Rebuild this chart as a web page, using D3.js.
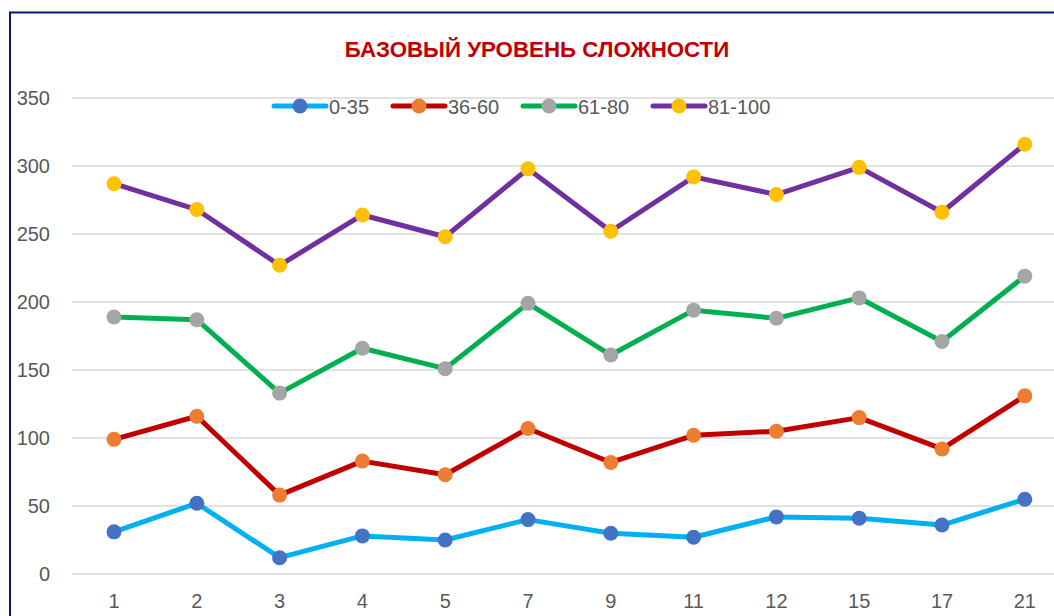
<!DOCTYPE html>
<html>
<head>
<meta charset="utf-8">
<script src="https://cdn.jsdelivr.net/npm/d3@7"></script>
<style>
   body { margin: 0; background: #fff; }
   svg { display: block; font-family: "Liberation Sans", Arial, sans-serif; }
</style>
</head>
<body>
<div id="chart"></div>
<script>
var categories = ["1", "2", "3", "4", "5", "7", "9", "11", "12", "15", "17", "21"]
var s0_35 = [31, 52, 12, 28, 25, 40, 30, 27, 42, 41, 36, 55]
var s36_60 = [99, 116, 58, 83, 73, 107, 82, 102, 105, 115, 92, 131]
var s61_80 = [189, 187, 133, 166, 151, 199, 161, 194, 188, 203, 171, 219]
var s81_100 = [287, 268, 227, 264, 248, 298, 252, 292, 279, 299, 266, 316]
var seriesNames = ["0-35", "36-60", "61-80", "81-100"]
var yTicks = [0, 50, 100, 150, 200, 250, 300, 350]

var width = 1054
var height = 616

// line colour / marker colour per series
var lineColors = ["#00B0F0", "#C00000", "#00B050", "#7030A0"]
var markColors = ["#4472C4", "#ED7D31", "#A5A5A5", "#FFC000"]

var series = [s0_35, s36_60, s61_80, s81_100].map(function(v, i) {
   return { name: seriesNames[i], values: v, line: lineColors[i], mark: markColors[i] }
})

var svg = d3.select("#chart").append("svg")
   .attr("width", width)
   .attr("height", height)

// chart frame (runs off the right and bottom edge)
svg.append("rect")
   .attr("x", 10).attr("y", 12.5)
   .attr("width", 1200).attr("height", 800)
   .attr("fill", "#fff")
   .attr("stroke", "#002060")
   .attr("stroke-width", 2)

var x = d3.scaleBand().domain(categories).range([72.6, 72.6 + 82.8 * 12])
var y = d3.scaleLinear().domain([0, 350]).range([574, 98])

// gridlines
svg.append("g").selectAll("line").data(yTicks).enter().append("line")
   .attr("x1", 72).attr("x2", width)
   .attr("y1", function(d) { return y(d) }).attr("y2", function(d) { return y(d) })
   .attr("stroke", "#D9D9D9").attr("stroke-width", 1.3)

// y axis labels
var yAxis = svg.append("g")
   .attr("transform", "translate(58,0)")
   .call(d3.axisLeft(y).tickValues(yTicks).tickSize(0).tickPadding(8))
yAxis.select(".domain").remove()
yAxis.selectAll("text")
   .attr("fill", "#595959")
   .style("font-size", "20px")
   .style("font-family", "Liberation Sans, Arial, sans-serif")

// x axis labels
var xAxis = svg.append("g")
   .attr("transform", "translate(0,590)")
   .call(d3.axisBottom(x).tickSize(0).tickPadding(4))
xAxis.select(".domain").remove()
xAxis.selectAll("text")
   .attr("fill", "#595959")
   .style("font-size", "20px")
   .style("font-family", "Liberation Sans, Arial, sans-serif")

// lines and markers
var line = d3.line()
   .x(function(d, i) { return x(categories[i]) + x.bandwidth() / 2 })
   .y(function(d) { return y(d) })

var groups = svg.selectAll("g.series").data(series).enter().append("g")
   .attr("class", "series")

groups.append("path")
   .attr("d", function(d) { return line(d.values) })
   .attr("fill", "none")
   .attr("stroke", function(d) { return d.line })
   .attr("stroke-width", 5)
   .attr("stroke-linejoin", "round")
   .attr("stroke-linecap", "round")

groups.selectAll("circle").data(function(d) {
      return d.values.map(function(v, i) { return { v: v, i: i, c: d.mark } })
   }).enter().append("circle")
   .attr("cx", function(d) { return x(categories[d.i]) + x.bandwidth() / 2 })
   .attr("cy", function(d) { return y(d.v) })
   .attr("r", 7.5)
   .attr("fill", function(d) { return d.c })

// title
svg.append("text")
   .attr("x", 537).attr("y", 56.5)
   .attr("text-anchor", "middle")
   .attr("fill", "#C00000")
   .style("font-weight", "bold")
   .style("font-size", "22.3px")
   .text("БАЗОВЫЙ УРОВЕНЬ СЛОЖНОСТИ")

// legend
var legendX = [274, 393, 523, 653]
var legend = svg.selectAll("g.legend").data(series).enter().append("g")
   .attr("class", "legend")
   .attr("transform", function(d, i) { return "translate(" + legendX[i] + ",106)" })

legend.append("line")
   .attr("x1", 0).attr("x2", 52).attr("y1", 0).attr("y2", 0)
   .attr("stroke", function(d) { return d.line })
   .attr("stroke-width", 5)
   .attr("stroke-linecap", "round")
legend.append("circle")
   .attr("cx", 26).attr("r", 7.5)
   .attr("fill", function(d) { return d.mark })
legend.append("text")
   .attr("x", 55).attr("y", 7.5)
   .attr("fill", "#595959")
   .style("font-size", "20px")
   .text(function(d) { return d.name })
</script>
</body>
</html>
